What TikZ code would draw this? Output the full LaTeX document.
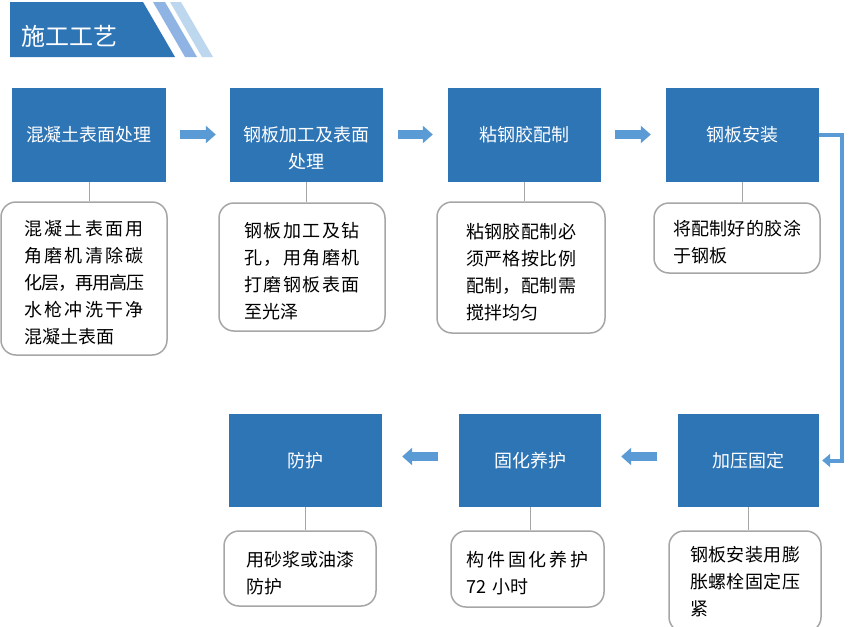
\documentclass[tikz,border=0pt]{standalone}
\usepackage{fontspec}
\setmainfont{Noto Sans CJK SC}
\usepackage{tikz}
\usetikzlibrary{arrows.meta}

\definecolor{stepblue}{HTML}{2E75B6}
\definecolor{flowblue}{HTML}{5B9BD5}
\definecolor{stripeA}{HTML}{8FB4E3}
\definecolor{stripeB}{HTML}{BDD7EE}
\definecolor{notegray}{HTML}{A6A6A6}

% spread one line of characters over the text width
\newcommand\jlgap{\hskip 0pt plus 1fil minus 2pt\relax}
\def\jlchars#1#2{#1\ifx#2\relax\else\jlgap\expandafter\jlchars\expandafter#2\fi}
\newcommand\jl[1]{\makebox[\linewidth][s]{\jlchars#1\relax}}

\begin{document}
\begin{tikzpicture}[x=1pt,y=-1pt,
   stepbox/.style={fill=stepblue,text=white,inner sep=0pt,minimum width=153pt,
      minimum height=94pt,font=\fontsize{18}{27}\selectfont,align=center},
   notebox/.style={draw=notegray,line width=1.5pt,rounded corners=15pt,fill=white,
      inner sep=0pt,font=\fontsize{18}{27}\selectfont,align=left,
      execute at begin node={\rule{0pt}{#1}}},
   notebox/.default=24pt,
   flow/.style={draw=flowblue,line width=9pt,-{Triangle[length=10pt,width=17pt]}},
   link/.style={draw=notegray,line width=1pt}]

\useasboundingbox (0,0) rectangle (855,627);
\clip (0,0) rectangle (855,627);
\fill[white] (0,0) rectangle (855,627);

% title bar
\fill[stepblue] (10,2) -- (143,2) -- (175,57) -- (10,57) -- cycle;
\fill[stripeA] (153,2) -- (165,2) -- (197,57) -- (185,57) -- cycle;
\fill[stripeB] (170,2) -- (181,2) -- (213,57) -- (202,57) -- cycle;
\node[text=white,font=\fontsize{24}{24}\selectfont,anchor=west,inner sep=0pt] (title) at (21,36) {施工工艺};

\node[stepbox,minimum width=154pt] (s1) at (89,134.5) {混凝土表面处理};
\node[stepbox] (s2) at (306.5,134.5) {};
\node[text=white,font=\fontsize{18}{27}\selectfont,align=center] (s2text) at ([yshift=-14pt]s2.center) {钢板加工及表面\\处理};
\node[stepbox] (s3) at (524.5,134.5) {粘钢胶配制};
\node[stepbox] (s4) at (742.5,134.5) {钢板安装};
\node[stepbox,minimum width=141pt,minimum height=93pt] (s5) at (748.5,460.5) {加压固定};
\node[stepbox,minimum width=142pt,minimum height=93pt] (s6) at (530,460.5) {固化养护};
\node[stepbox,minimum height=93pt] (s7) at (305.5,460.5) {防护};

\node[notebox,minimum width=166pt,minimum height=153pt,text width=120pt] (n1) at (84,278.5)
   {\jl{混凝土表面用}\\\jl{角磨机清除碳}\\\jl{化层，再用高压}\\\jl{水枪冲洗干净}\\混凝土表面};
\node[notebox,minimum width=166pt,minimum height=128pt,text width=115pt] (n2) at (302,267)
   {\jl{钢板加工及钻}\\\jl{孔，用角磨机}\\\jl{打磨钢板表面}\\至光泽};
\node[notebox,minimum width=168pt,minimum height=131pt,text width=110pt] (n3) at (521,267.5)
   {\jl{粘钢胶配制必}\\\jl{须严格按比例}\\\jl{配制，配制需}\\搅拌均匀};
\node[notebox,minimum width=166pt,minimum height=70pt,text width=128pt] (n4) at (737,238)
   {\jl{将配制好的胶涂}\\于钢板};
\node[notebox=16pt,minimum width=152pt,minimum height=101pt,text width=110pt] (n5) at (745,581.5)
   {\jl{钢板安装用膨}\\\jl{胀螺栓固定压}\\紧};
\node[notebox,minimum width=153pt,minimum height=76pt,text width=122pt] (n6) at (527.5,569)
   {\jl{构件固化养护}\\72 小时};
\node[notebox,minimum width=152pt,minimum height=75pt,text width=108pt] (n7) at (300,568.5)
   {\jl{用砂浆或油漆}\\防护};

\draw[link] (s1.south) -- (s1.south |- n1.north);
\draw[link] (s2.south) -- (s2.south |- n2.north);
\draw[link] (s3.south) -- (s3.south |- n3.north);
\draw[link] (s4.south) -- (s4.south |- n4.north);
\draw[link] (s5.south) -- (s5.south |- n5.north);
\draw[link] (s6.south) -- (s6.south |- n6.north);
\draw[link] (s7.south) -- (s7.south |- n7.north);

\draw[flow] ([xshift=14pt]s1.east) -- ([xshift=-14pt]s2.west);
\draw[flow] ([xshift=15pt]s2.east) -- ([xshift=-15pt]s3.west);
\draw[flow] ([xshift=14pt]s3.east) -- ([xshift=-15pt]s4.west);
\draw[draw=flowblue,line width=4pt,-{Triangle[length=8pt,width=13pt]},shorten >=3pt]
   (s4.east) -- ++(23,0) |- (s5.east);
\draw[flow] ([xshift=-21pt,yshift=4pt]s5.west) -- ([xshift=20pt,yshift=4pt]s6.east);
\draw[flow] ([xshift=-21pt,yshift=4pt]s6.west) -- ([xshift=20pt,yshift=4pt]s7.east);

\end{tikzpicture}
\end{document}
